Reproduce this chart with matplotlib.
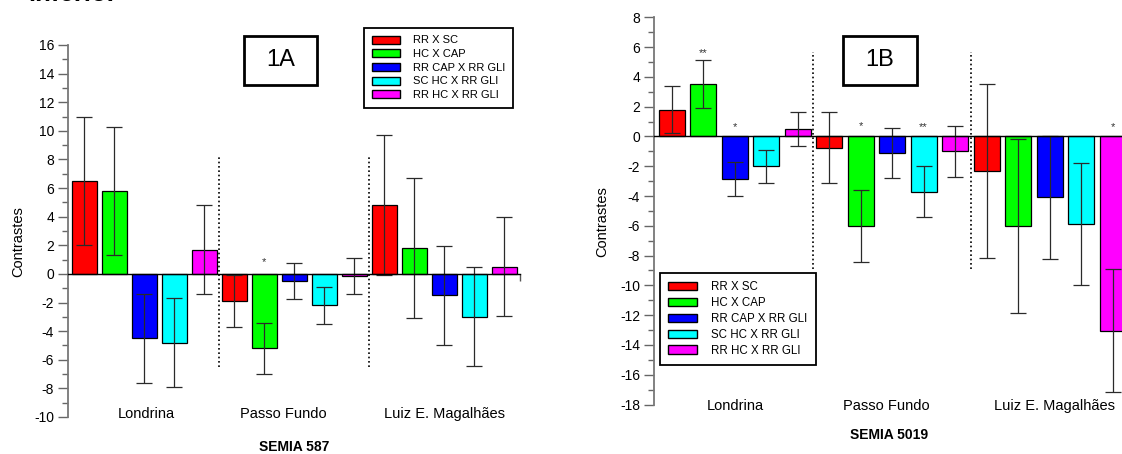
import numpy as np
import matplotlib.pyplot as plt
from matplotlib.patches import Patch, Rectangle
from matplotlib.ticker import MultipleLocator
import matplotlib.transforms as mtransforms

plt.rcParams['font.family'] = ['Liberation Sans', 'DejaVu Sans']
plt.rcParams['axes.unicode_minus'] = False

# categories
sites = ['Londrina', 'Passo Fundo', 'Luiz E. Magalhães']
contrasts = ['RR X SC', 'HC X CAP', 'RR CAP X RR GLI', 'SC HC X RR GLI', 'RR HC X RR GLI']
colors = ['#FF0000', '#00FF00', '#0000FF', '#00FFFF', '#FF00FF']

# SEMIA 587 (rows = site, cols = contrast)
semia587_mean = [[6.5, 5.8, -4.5, -4.8, 1.7],
                 [-1.9, -5.2, -0.5, -2.2, -0.15],
                 [4.8, 1.8, -1.5, -3.0, 0.5]]
semia587_err = [[4.45, 4.45, 3.1, 3.1, 3.1],
                [1.8, 1.8, 1.27, 1.27, 1.27],
                [4.9, 4.9, 3.45, 3.45, 3.45]]
semia587_sig = [['', '', '', '', ''],
                ['', '*', '', '', ''],
                ['', '', '', '', '']]
semia587_sig_y = [[0, 0, 0, 0, 0],
                  [0, 1.07, 0, 0, 0],
                  [0, 0, 0, 0, 0]]

# SEMIA 5019
semia5019_mean = [[1.8, 3.5, -2.85, -2.0, 0.5],
                  [-0.75, -6.0, -1.1, -3.7, -1.0],
                  [-2.35, -6.0, -4.1, -5.9, -13.05]]
semia5019_err = [[1.6, 1.6, 1.12, 1.1, 1.12],
                 [2.4, 2.4, 1.7, 1.7, 1.7],
                 [5.84, 5.84, 4.1, 4.1, 4.13]]
semia5019_sig = [['', '**', '*', '', ''],
                 ['', '*', '', '**', ''],
                 ['', '', '', '', '*']]
semia5019_sig_y = [[0, 5.8, 0.87, 0, 0],
                   [0, 0.92, 0, 0.87, 0],
                   [0, 0, 0, 0, 0.87]]

W, H = 1122, 454
fig = plt.figure(figsize=(W / 100, H / 100), dpi=100)
fig.set_facecolor('white')


def px_axes(x0, y0, x1, y1):
    # pixel box (top-left origin) -> figure fraction axes
    return fig.add_axes([x0 / W, 1 - y1 / H, (x1 - x0) / W, (y1 - y0) / H])


def draw_panel(ax, means, errs, sigs, sig_y, ylim, xlim, div_span, label_x, label_y):
    means = np.array(means).ravel()
    errs = np.array(errs).ravel()
    x = np.arange(means.size)
    bar_colors = colors * len(sites)
    ax.bar(x, means, width=0.83, color=bar_colors, edgecolor='black', linewidth=0.9, zorder=2)
    ax.errorbar(x, means, yerr=errs, fmt='none', ecolor='#2a2a2a', elinewidth=0.9,
                capsize=5.5, capthick=0.9, zorder=3)
    for xi, s, sy in zip(x, np.array(sigs).ravel(), np.array(sig_y).ravel()):
        if s:
            ax.annotate(s, (xi, sy), xytext=(0, -4.6), textcoords='offset points',
                        ha='center', va='baseline', fontsize=8, color='#333333')
    # dotted separators between sites
    for g in range(1, len(sites)):
        xs = g * len(contrasts) - 0.5
        ax.plot([xs, xs], div_span, ls=(0, (1, 1.6)), color='black', lw=1.2, zorder=1)

    ax.set_xlim(*xlim)
    ax.set_ylim(*ylim)
    ax.yaxis.set_major_locator(MultipleLocator(2))
    ax.yaxis.set_minor_locator(MultipleLocator(1))
    ax.tick_params(axis='y', which='major', length=7, width=1, color='#666666',
                   pad=3, labelsize=10)
    ax.tick_params(axis='y', which='minor', length=4, width=1, color='#666666')
    for sp in ('top', 'right'):
        ax.spines[sp].set_visible(False)
    ax.spines['left'].set_color('#777777')
    ax.spines['left'].set_linewidth(1.3)
    ax.spines['bottom'].set_position(('data', 0))
    ax.spines['bottom'].set_color('black')
    ax.spines['bottom'].set_linewidth(1.0)
    ax.spines['bottom'].set_zorder(4)
    ax.set_xticks([xlim[1]])
    ax.set_xticklabels([''])
    ax.tick_params(axis='x', length=5, width=1, color='#555555', direction='out')
    ax.patch.set_visible(False)

    trans = mtransforms.blended_transform_factory(ax.transData, ax.transAxes)
    for lx, name in zip(label_x, sites):
        ax.text(lx, label_y, name, transform=trans, ha='center', va='center', fontsize=10.5)


# ---- panel 1A ----
ax1 = px_axes(68, 45, 520, 417)
draw_panel(ax1, semia587_mean, semia587_err, semia587_sig, semia587_sig_y,
           (-10, 16), (-0.55, 14.52), (-6.5, 8.2), [2.05, 6.62, 12.0], 0.008)

# ---- panel 1B ----
ax2 = px_axes(654, 17.3, 1131.5, 404.5)
draw_panel(ax2, semia5019_mean, semia5019_err, semia5019_sig, semia5019_sig_y,
           (-18, 8), (-0.56, 14.6), (-8.9, 5.7), [2.01, 6.8, 12.16], -0.003)

# y labels
fig.text(18 / W, 1 - 242 / H, 'Contrastes', rotation=90, ha='center', va='center', fontsize=10.5)
fig.text(602 / W, 1 - 222 / H, 'Contrastes', rotation=90, ha='center', va='center', fontsize=10.5)

# strain titles
fig.text(294 / W, 1 - 447 / H, 'SEMIA 587', ha='center', va='center', fontsize=10, fontweight='bold')
fig.text(889 / W, 1 - 435 / H, 'SEMIA 5019', ha='center', va='center', fontsize=10, fontweight='bold')

# panel tags in boxes
for (x0, y0, x1, y1), tag in [((244, 36, 317, 85), '1A'), ((843, 36, 917, 85), '1B')]:
    fig.patches.append(Rectangle((x0 / W, 1 - y1 / H), (x1 - x0) / W, (y1 - y0) / H,
                                 transform=fig.transFigure, fill=False,
                                 edgecolor='black', linewidth=2))
    fig.text((x0 + x1) / 2 / W, 1 - (y0 + y1) / 2 / H, tag, ha='center', va='center', fontsize=17)

# legends
handles = [Patch(facecolor=c, edgecolor='black', linewidth=1) for c in colors]
for (lx, ly), fs in [((364, 27.7), 8.0), ((660, 273.3), 8.3)]:
    leg = fig.legend(handles, contrasts, loc='upper left', bbox_to_anchor=(lx / W, 1 - ly / H),
                     bbox_transform=fig.transFigure, borderaxespad=0, fontsize=fs,
                     handlelength=2.5, handleheight=0.72, handletextpad=1.25,
                     labelspacing=0.33, borderpad=0.7, fancybox=False, framealpha=1)
    leg.get_frame().set_edgecolor('black')
    leg.get_frame().set_linewidth(1.3)

# clipped caption text from the page above
fig.text(28 / W, 1 - 1 / H, 'inferior', ha='left', va='baseline', fontsize=18.5, fontweight='bold')

fig.savefig('out.png', dpi=100)
